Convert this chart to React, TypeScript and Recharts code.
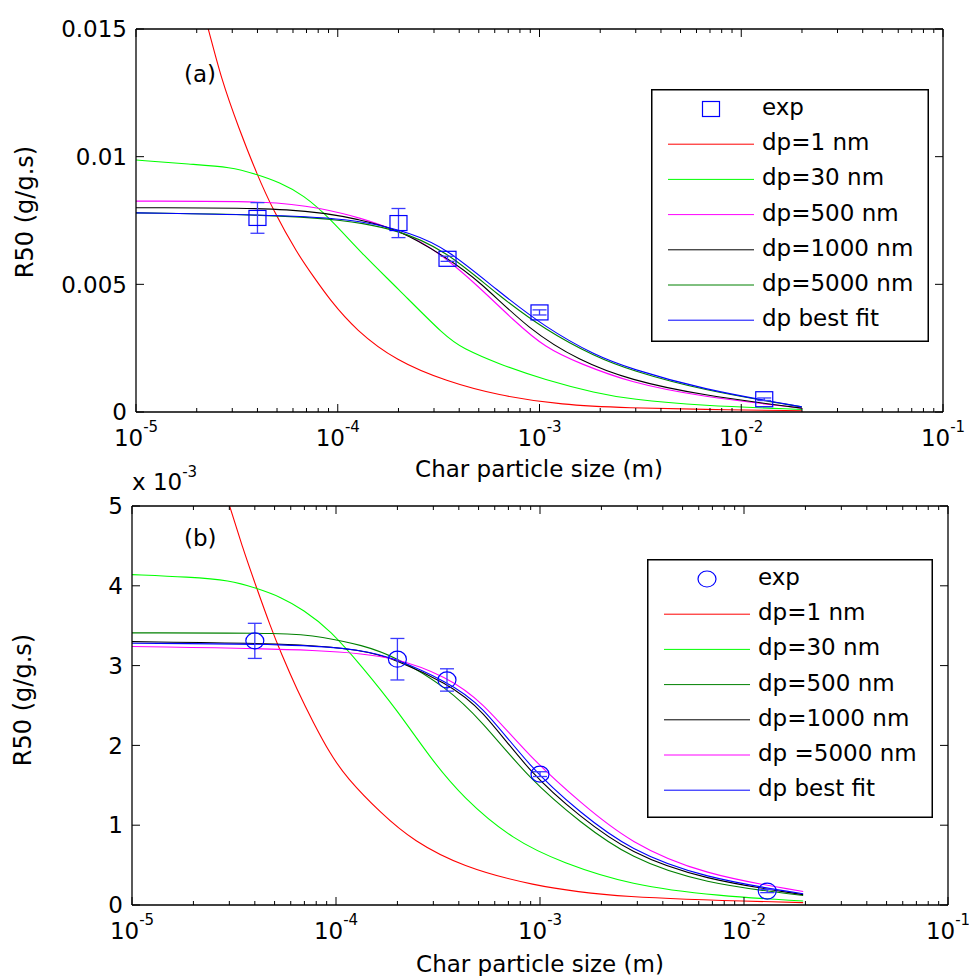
import { ComposedChart, Line, Scatter, ErrorBar, XAxis, YAxis, Legend } from "recharts"

const FONT = "DejaVu Sans, Arial, sans-serif"

// curves: [log10 of particle size (m), R50]
// panel (a), R50 in g/g.s
const aDp1: [number, number][] = [
  [-5, 0.026], [-4.8, 0.0195], [-4.64, 0.015], [-4.58, 0.0131], [-4.49, 0.0111], [-4.4, 0.0093],
  [-4.32, 0.0079], [-4.2, 0.0062], [-4.12, 0.0053], [-4.04, 0.0044], [-3.91, 0.0032], [-3.71, 0.002],
  [-3.46, 0.0012], [-3.21, 0.00066], [-2.89, 0.00027], [-2.55, 0.00016], [-2.2, 0.0001], [-1.7, 0.00005],
]
const aDp30: [number, number][] = [
  [-5, 0.00987], [-4.73, 0.0097], [-4.53, 0.0096], [-4.4, 0.0093], [-4.29, 0.009], [-4.17, 0.0085],
  [-4.04, 0.0076], [-3.88, 0.0062], [-3.71, 0.0049], [-3.46, 0.0029], [-3.38, 0.0025], [-3.21, 0.0019],
  [-2.97, 0.00125], [-2.72, 0.00074], [-2.55, 0.0005], [-2.2, 0.00025], [-1.7, 0.0001],
]
const aDp500: [number, number][] = [
  [-5, 0.00826], [-4.3, 0.00826], [-4.1, 0.008], [-3.88, 0.0076], [-3.71, 0.0071], [-3.59, 0.0067],
  [-3.46, 0.006], [-3.3, 0.0049], [-3.13, 0.0036], [-2.97, 0.0025], [-2.8, 0.0019], [-2.55, 0.00115],
  [-2.2, 0.0006], [-1.7, 0.00015],
]
const aDp1000: [number, number][] = [
  [-5, 0.008], [-4.16, 0.008], [-3.88, 0.0075], [-3.71, 0.0072], [-3.46, 0.00605], [-3.3, 0.00515],
  [-3.05, 0.0032], [-2.8, 0.002], [-2.55, 0.00125], [-2.2, 0.00066], [-1.7, 0.00015],
]
const aDp5000: [number, number][] = [
  [-5, 0.0078], [-4.1, 0.0077], [-3.71, 0.0072], [-3.46, 0.0063], [-3.21, 0.0046], [-2.97, 0.0032],
  [-2.72, 0.00215], [-2.55, 0.00164], [-2.2, 0.00086], [-1.7, 0.0002],
]
const aBest: [number, number][] = [
  [-5, 0.0078], [-4.2, 0.0077], [-3.88, 0.0075], [-3.63, 0.007], [-3.46, 0.0064], [-3.21, 0.00477],
  [-2.97, 0.0033], [-2.72, 0.0022], [-2.55, 0.0017], [-2.2, 0.0009], [-1.7, 0.0002],
]

// panel (b), R50 in 1e-3 g/g.s
const bDp1: [number, number][] = [
  [-5, 8.8], [-4.8, 7.2], [-4.65, 6.0], [-4.52, 5.0], [-4.46, 4.49], [-4.39, 3.98], [-4.32, 3.48],
  [-4.27, 3.16], [-4.19, 2.69], [-4.11, 2.28], [-4.03, 1.9], [-3.95, 1.6], [-3.78, 1.15], [-3.62, 0.8],
  [-3.38, 0.48], [-3.05, 0.25], [-2.64, 0.09], [-1.71, 0.03],
]
const bDp30: [number, number][] = [
  [-5, 4.14], [-4.72, 4.11], [-4.52, 4.07], [-4.39, 3.97], [-4.27, 3.86], [-4.16, 3.7], [-4.03, 3.45],
  [-3.87, 2.98], [-3.7, 2.44], [-3.54, 1.85], [-3.38, 1.35], [-3.13, 0.81], [-2.89, 0.53], [-2.56, 0.25],
  [-2.12, 0.11], [-1.71, 0.05],
]
const bDp500: [number, number][] = [
  [-5, 3.41], [-4.2, 3.41], [-4.08, 3.36], [-3.87, 3.26], [-3.7, 3.1], [-3.46, 2.73], [-3.29, 2.32],
  [-3.05, 1.57], [-2.8, 1.03], [-2.56, 0.59], [-2.2, 0.27], [-1.71, 0.12],
]
const bDp1000: [number, number][] = [
  [-5, 3.3], [-4.23, 3.28], [-3.87, 3.2], [-3.7, 3.07], [-3.46, 2.78], [-3.29, 2.48], [-3.05, 1.65],
  [-2.8, 1.1], [-2.56, 0.65], [-2.2, 0.32], [-1.71, 0.13],
]
const bDp5000: [number, number][] = [
  [-5, 3.24], [-4.0, 3.2], [-3.7, 3.1], [-3.46, 2.86], [-3.29, 2.57], [-3.05, 1.85], [-2.8, 1.28],
  [-2.56, 0.78], [-2.2, 0.38], [-1.71, 0.17],
]
const bBest: [number, number][] = [
  [-5, 3.28], [-4.2, 3.27], [-3.87, 3.2], [-3.7, 3.08], [-3.46, 2.8], [-3.29, 2.53], [-3.05, 1.72],
  [-2.8, 1.15], [-2.56, 0.69], [-2.2, 0.34], [-1.71, 0.14],
]

// experiments
const expSize = [4e-5, 2e-4, 3.5e-4, 1e-3, 1.3e-2]
const expA = [0.0076, 0.0074, 0.006, 0.0039, 0.0005]
const expAErr = [0.0006, 0.00057, 0.0001, 0.0001, 0.00005]
const expB = [3.31, 3.08, 2.82, 1.64, 0.175]
const expBErr = [0.22, 0.26, 0.14, 0.03, 0.02]

// axes
const decadeExps = [-5, -4, -3, -2, -1]
const minorSteps = [2, 3, 4, 5, 6, 7, 8, 9]
const yTicksA = [0, 0.005, 0.01, 0.015]
const yTicksB = [0, 1, 2, 3, 4, 5]

const xTicks = decadeExps.flatMap((e) =>
  e < -1 ? [1, ...minorSteps].map((m) => m * Math.pow(10, e)) : [Math.pow(10, e)]
)

const toPts = (arr: [number, number][]) => arr.map(([e, v]) => ({ x: Math.pow(10, e), y: v }))
const toExp = (vals: number[], errs: number[]) => expSize.map((x, i) => ({ x, y: vals[i], err: errs[i] }))

interface Series {
  name: string
  color: string
  pts: [number, number][]
}

const seriesA: Series[] = [
  { name: "dp=1 nm", color: "#ff0000", pts: aDp1 },
  { name: "dp=30 nm", color: "#00ff00", pts: aDp30 },
  { name: "dp=500 nm", color: "#ff00ff", pts: aDp500 },
  { name: "dp=1000 nm", color: "#000000", pts: aDp1000 },
  { name: "dp=5000 nm", color: "#008000", pts: aDp5000 },
  { name: "dp best fit", color: "#0000ff", pts: aBest },
]

const seriesB: Series[] = [
  { name: "dp=1 nm", color: "#ff0000", pts: bDp1 },
  { name: "dp=30 nm", color: "#00ff00", pts: bDp30 },
  { name: "dp=500 nm", color: "#008000", pts: bDp500 },
  { name: "dp=1000 nm", color: "#000000", pts: bDp1000 },
  { name: "dp =5000 nm", color: "#ff00ff", pts: bDp5000 },
  { name: "dp best fit", color: "#0000ff", pts: bBest },
]

const isMajor = (v: number) => Math.abs(Math.log10(v) - Math.round(Math.log10(v))) < 1e-6

function BottomTick({ x, y, payload, labelDy }: any) {
  const v = payload.value
  const major = isMajor(v)
  return (
    <g>
      <line x1={x} x2={x} y1={y} y2={y - (major ? 8 : 4)} stroke="#000" />
      {major && (
        <text x={x} y={y + labelDy} textAnchor="middle" fontSize={23} fontFamily={FONT} fill="#000">
          10
          <tspan dy={-14} fontSize={15}>
            {String(Math.round(Math.log10(v)))}
          </tspan>
        </text>
      )}
    </g>
  )
}

function TopTick({ x, y, payload }: any) {
  const major = isMajor(payload.value)
  return <line x1={x} x2={x} y1={y} y2={y + (major ? 8 : 4)} stroke="#000" />
}

function LeftTick({ x, y, payload }: any) {
  return (
    <g>
      <line x1={x} x2={x + 8} y1={y} y2={y} stroke="#000" />
      <text x={x - 9} y={y} dy="0.36em" textAnchor="end" fontSize={23} fontFamily={FONT} fill="#000">
        {String(payload.value)}
      </text>
    </g>
  )
}

function RightTick({ x, y }: any) {
  return <line x1={x} x2={x - 8} y1={y} y2={y} stroke="#000" />
}

const SquareMarker = (p: any) => (
  <rect x={p.cx - 8.5} y={p.cy - 7.5} width={17} height={15} fill="none" stroke="#0000ff" strokeWidth={1.2} />
)
const CircleMarker = (p: any) => (
  <ellipse cx={p.cx} cy={p.cy} rx={9} ry={8} fill="none" stroke="#0000ff" strokeWidth={1.2} />
)

function LegendBox({ series, w, h, marker }: { series: Series[]; w: number; h: number; marker: "square" | "circle" }) {
  const rowY = (i: number) => 20 + i * 35.2
  return (
    <svg width={w} height={h} style={{ display: "block" }}>
      <rect x={0.75} y={0.75} width={w - 1.5} height={h - 1.5} fill="#fff" stroke="#000" strokeWidth={1.5} />
      {marker === "square" ? (
        <rect x={51.5} y={rowY(0) - 7.5} width={17} height={15} fill="none" stroke="#0000ff" strokeWidth={1.2} />
      ) : (
        <ellipse cx={60} cy={rowY(0)} rx={9} ry={8} fill="none" stroke="#0000ff" strokeWidth={1.2} />
      )}
      <text x={111} y={rowY(0) + 6} fontSize={23} fontFamily={FONT} fill="#000">
        exp
      </text>
      {series.map((s, i) => (
        <g key={s.name}>
          <line x1={17} x2={103} y1={rowY(i + 1)} y2={rowY(i + 1)} stroke={s.color} strokeWidth={1} />
          <text x={111} y={rowY(i + 1) + 6} fontSize={23} fontFamily={FONT} fill="#000">
            {s.name}
          </text>
        </g>
      ))}
    </svg>
  )
}

interface PanelProps {
  series: Series[]
  exp: { x: number; y: number; err: number }[]
  yDomain: [number, number]
  yTicks: number[]
  margin: { top: number; right: number; bottom: number; left: number }
  yWidth: number
  legendPos: { left: number; top: number; width: number; height: number }
  marker: "square" | "circle"
}

function Panel({ series, exp, yDomain, yTicks, margin, yWidth, legendPos, marker }: PanelProps) {
  return (
    <ComposedChart width={969} height={488} margin={margin}>
      <XAxis
        xAxisId="b"
        dataKey="x"
        type="number"
        scale="log"
        domain={[1e-5, 0.1]}
        allowDataOverflow
        ticks={xTicks}
        interval={0}
        height={40}
        tickSize={0}
        tickMargin={0}
        tickLine={false}
        axisLine={{ stroke: "#000", strokeWidth: 1.3 }}
        tick={(p: any) => <BottomTick {...p} labelDy={34} />}
      />
      <XAxis
        xAxisId="t"
        orientation="top"
        dataKey="x"
        type="number"
        scale="log"
        domain={[1e-5, 0.1]}
        allowDataOverflow
        ticks={xTicks}
        interval={0}
        height={1}
        tickSize={0}
        tickMargin={0}
        tickLine={false}
        axisLine={{ stroke: "#000", strokeWidth: 1.3 }}
        tick={(p: any) => <TopTick {...p} />}
      />
      <YAxis
        yAxisId="l"
        type="number"
        domain={yDomain}
        allowDataOverflow
        ticks={yTicks}
        interval={0}
        width={yWidth}
        tickSize={0}
        tickMargin={0}
        tickLine={false}
        axisLine={{ stroke: "#000", strokeWidth: 1.3 }}
        tick={(p: any) => <LeftTick {...p} />}
      />
      <YAxis
        yAxisId="r"
        orientation="right"
        type="number"
        domain={yDomain}
        allowDataOverflow
        ticks={yTicks}
        interval={0}
        width={1}
        tickSize={0}
        tickMargin={0}
        tickLine={false}
        axisLine={{ stroke: "#000", strokeWidth: 1.3 }}
        tick={(p: any) => <RightTick {...p} />}
      />
      {series.map((s) => (
        <Line
          key={s.name}
          xAxisId="b"
          yAxisId="l"
          data={toPts(s.pts)}
          dataKey="y"
          name={s.name}
          type="basis"
          stroke={s.color}
          strokeWidth={1.1}
          dot={false}
          activeDot={false}
          isAnimationActive={false}
        />
      ))}
      <Scatter
        xAxisId="b"
        yAxisId="l"
        data={exp}
        dataKey="y"
        name="exp"
        shape={marker === "square" ? SquareMarker : CircleMarker}
        isAnimationActive={false}
      >
        <ErrorBar dataKey="err" direction="y" width={7} stroke="#3a3aff" strokeWidth={1.3} isAnimationActive={false} />
      </Scatter>
      <Legend
        layout="vertical"
        align="center"
        verticalAlign="middle"
        wrapperStyle={{ ...legendPos }}
        content={() => <LegendBox series={series} w={legendPos.width} h={legendPos.height} marker={marker} />}
      />
    </ComposedChart>
  )
}

export default function App() {
  return (
    <div style={{ position: "absolute", left: 0, top: 0, width: 969, height: 976, background: "#fff" }}>
      <div style={{ position: "absolute", left: 0, top: 0 }}>
        <Panel
          series={seriesA}
          exp={toExp(expA, expAErr)}
          yDomain={[0, 0.015]}
          yTicks={yTicksA}
          margin={{ top: 28, right: 25, bottom: 36, left: 0 }}
          yWidth={136}
          legendPos={{ left: 651, top: 89, width: 278, height: 253 }}
          marker="square"
        />
      </div>
      <div style={{ position: "absolute", left: 0, top: 488 }}>
        <Panel
          series={seriesB}
          exp={toExp(expB, expBErr)}
          yDomain={[0, 5]}
          yTicks={yTicksB}
          margin={{ top: 17, right: 20, bottom: 31, left: 0 }}
          yWidth={132}
          legendPos={{ left: 647, top: 71, width: 286, height: 259 }}
          marker="circle"
        />
      </div>
      <svg
        width={969}
        height={976}
        style={{ position: "absolute", left: 0, top: 0, pointerEvents: "none" }}
        fontFamily={FONT}
        fill="#000"
      >
        <text x={184} y={82} fontSize={23}>(a)</text>
        <text x={184} y={546} fontSize={23}>(b)</text>
        <text x={539} y={477} fontSize={23} textAnchor="middle">Char particle size (m)</text>
        <text x={540} y={972} fontSize={23} textAnchor="middle">Char particle size (m)</text>
        <text transform="translate(33,212) rotate(-90)" fontSize={24} textAnchor="middle">R50 (g/g.s)</text>
        <text transform="translate(31,700) rotate(-90)" fontSize={24} textAnchor="middle">R50 (g/g.s)</text>
        <text x={132} y={490} fontSize={23}>
          x 10
          <tspan dy={-13} fontSize={15}>-3</tspan>
        </text>
      </svg>
    </div>
  )
}
